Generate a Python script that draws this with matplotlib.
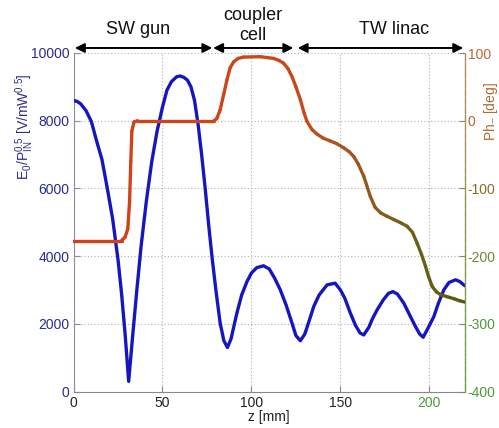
import numpy as np
import matplotlib
matplotlib.use("Agg")
import matplotlib.pyplot as plt
from matplotlib.collections import LineCollection
from matplotlib.colors import to_rgb
import matplotlib.transforms as mtransforms

plt.rcParams['font.family'] = ['Liberation Sans', 'DejaVu Sans']
plt.rcParams['mathtext.fontset'] = 'custom'
plt.rcParams['mathtext.rm'] = 'Liberation Sans'
plt.rcParams['mathtext.it'] = 'Liberation Sans:italic'
plt.rcParams['axes.unicode_minus'] = False

# ---------------- data ----------------
z_field = [0, 2, 4, 7, 10, 13, 16, 19, 22, 25, 27, 29, 31, 33, 35.6, 38, 41, 44, 47, 50,
           52.5, 55, 58, 60, 62, 64, 66, 68, 70, 72, 74, 76, 78, 80, 82.4, 84.5, 86.5, 88.5,
           91.8, 94.5, 97.5, 100, 103, 106.8, 110, 113, 116.2, 119.5, 122.8, 125, 127.5,
           130, 132.5, 135, 138, 142.5, 147, 150, 152.5, 155.6, 158.5, 161, 163.1, 166,
           168, 170.6, 174, 177, 179.5, 182, 185.6, 189, 192.2, 194.5, 196.5, 199, 202.5,
           205, 208.1, 211, 214.7, 217, 220]
field = [8600, 8570, 8500, 8300, 7980, 7400, 6850, 6000, 5100, 3900, 2900, 1700, 300, 1500,
         3000, 4300, 5650, 6800, 7700, 8400, 8900, 9150, 9300, 9320, 9280, 9200, 9000, 8600,
         7900, 7000, 6000, 4900, 3900, 3000, 2025, 1500, 1300, 1550, 2313, 2850, 3250, 3500,
         3660, 3713, 3620, 3350, 3003, 2550, 2017, 1650, 1500, 1700, 2100, 2510, 2850, 3150,
         3200, 3000, 2750, 2313, 1950, 1730, 1670, 1900, 2150, 2410, 2700, 2900, 2950, 2880,
         2610, 2250, 1917, 1700, 1603, 1850, 2213, 2600, 3003, 3220, 3300, 3250, 3120]

z_phase = [0, 27, 29, 30.5, 31.5, 32.2, 32.8, 34, 36, 79, 80.5, 82.4, 84.5, 86.2, 88, 90,
           92.5, 95.6, 105, 112.5, 115.5, 118, 120.5, 122.8, 125, 127.5, 129.5, 131.2, 134,
           136.9, 140.5, 144.3, 148, 151.8, 155, 157.5, 160, 163.1, 166.8, 169.5, 172.5, 176,
           180, 184, 187.5, 190.5, 193.1, 195.5, 197.8, 199.5, 201.6, 204, 206.3, 210, 213.8,
           217, 220]
phase = [-177, -177, -172, -160, -120, -60, -15, -2, 0, 0, 3, 16, 40, 60, 78, 87, 92, 94,
         94.5, 92, 89, 85, 77, 65, 50, 31, 12, -1, -13, -20, -26, -30, -34, -40, -46, -53,
         -64, -82, -112, -128, -136, -141, -146, -151, -156, -165, -181, -197, -215, -230,
         -245, -253, -257, -260, -263, -266, -268]

section_names = ["SW gun", "coupler\ncell", "TW linac"]
section_start = [0.8, 78.5, 126]
section_end = [78, 123.5, 219]
section_label_z = [36.3, 101, 180]

x_ticks = [0, 50, 100, 150, 200]
left_ticks = [0, 2000, 4000, 6000, 8000, 10000]
right_ticks = [-400, -300, -200, -100, 0, 100]

# ---------------- figure ----------------
W, H = 499, 428
fig = plt.figure(figsize=(W / 100, H / 100), dpi=100)
L, R, T, B = 73.5, 465, 53, 391.5
ax = fig.add_axes([L / W, 1 - B / H, (R - L) / W, (B - T) / H])
ax2 = ax.twinx()

ax.set_xlim(0, 220)
ax.set_ylim(0, 10000)
ax2.set_ylim(-400, 100)

ax.set_xticks(x_ticks)
ax.set_yticks(left_ticks)
ax2.set_yticks(right_ticks)
ax.grid(True, color='#b0b0b0', linestyle=(0, (1, 2)), linewidth=0.8)

ax.plot(z_field, field, color='#1616c0', lw=2.4, solid_capstyle='round', zorder=3)

# phase with colour gradient along z
anchor_z = [0, 130, 150, 170, 190, 220]
anchor_c = ['#d2401a', '#c84a1c', '#a85622', '#8a5c1e', '#6c6218', '#58580e']
anchor_rgb = np.array([to_rgb(c) for c in anchor_c])
zp = np.asarray(z_phase, float)
pp = np.asarray(phase, float)
pts = np.column_stack([zp, pp]).reshape(-1, 1, 2)
segs = np.concatenate([pts[:-1], pts[1:]], axis=1)
zm = 0.5 * (zp[:-1] + zp[1:])
cols = np.column_stack([np.interp(zm, anchor_z, anchor_rgb[:, k]) for k in range(3)])
lc = LineCollection(segs, colors=cols, linewidths=2.4, capstyle='round', joinstyle='round', zorder=3)
ax2.add_collection(lc)

# spines
for a in (ax, ax2):
    a.spines['top'].set_visible(False)
ax.spines['left'].set_color('#8c8ca8')
ax.spines['bottom'].set_color('#888888')
ax.spines['right'].set_visible(False)
ax2.spines['left'].set_visible(False)
ax2.spines['bottom'].set_visible(False)
ax2.spines['right'].set_visible(False)
sy = np.linspace(0, 1, 40)
spts = np.column_stack([np.ones_like(sy), sy]).reshape(-1, 1, 2)
ssegs = np.concatenate([spts[:-1], spts[1:]], axis=1)
top_c = np.array(to_rgb('#b8885a'))
bot_c = np.array(to_rgb('#62a040'))
sm = 0.5 * (sy[:-1] + sy[1:])
scols = bot_c[None, :] * (1 - sm[:, None]) + top_c[None, :] * sm[:, None]
slc = LineCollection(ssegs, colors=scols, linewidths=1.0, transform=ax2.transAxes, clip_on=False)
ax2.add_collection(slc)

# ticks
ax.tick_params(axis='both', direction='in', length=4, width=0.8, labelsize=10)
ax.tick_params(axis='x', colors='#888888', labelcolor='#222222', pad=3)
ax.tick_params(axis='y', colors='#8c8ca8', labelcolor='#2b2b90', pad=3)
ax2.tick_params(axis='y', direction='in', length=4, width=0.8, labelsize=10, pad=2,
                colors='#8a8a50')
for lab in ax.get_xticklabels():
    if lab.get_text() == '200':
        lab.set_color('#4e9a3a')
right_cols = {'100': '#b86a30', '0': '#b06a30', '-100': '#8c6a28', '-200': '#6e8a30',
              '-300': '#4e9a3a', '-400': '#4e9a3a'}
fig.canvas.draw()
for lab in ax2.get_yticklabels():
    t = lab.get_text().replace('\u2212', '-')
    if t in right_cols:
        lab.set_color(right_cols[t])

# labels
fig.text(269 / W, 1 - 417 / H, 'z [mm]', ha='center', va='center', fontsize=10, color='#222222')
fig.text(25 / W, 1 - 127 / H, r'E$_{0}$/P$_{\mathrm{IN}}^{0.5}$ [V/mW$^{0.5}$]',
         rotation=90, ha='center', va='center', fontsize=10, color='#2b2b90')
fig.text(491 / W, 1 - 112 / H, r'Ph$_{-}$ [deg]', rotation=90, ha='center', va='center',
         fontsize=10, color='#b06a30')

# section arrows
trans = mtransforms.blended_transform_factory(ax.transData, ax.transAxes)
for name, s, e, lz in zip(section_names, section_start, section_end, section_label_z):
    ax.annotate('', xy=(e, 1.0148), xytext=(s, 1.0148), xycoords=trans, textcoords=trans,
                arrowprops=dict(arrowstyle='<|-|>', color='black', lw=1.4,
                                mutation_scale=14, shrinkA=0, shrinkB=0),
                annotation_clip=False)
    ly = 1.081 if '\n' in name else 1.068
    ax.text(lz, ly, name, transform=trans, ha='center', va='center', fontsize=13,
            color='#111111', linespacing=1.2, clip_on=False)

fig.savefig('out.png', dpi=100)
